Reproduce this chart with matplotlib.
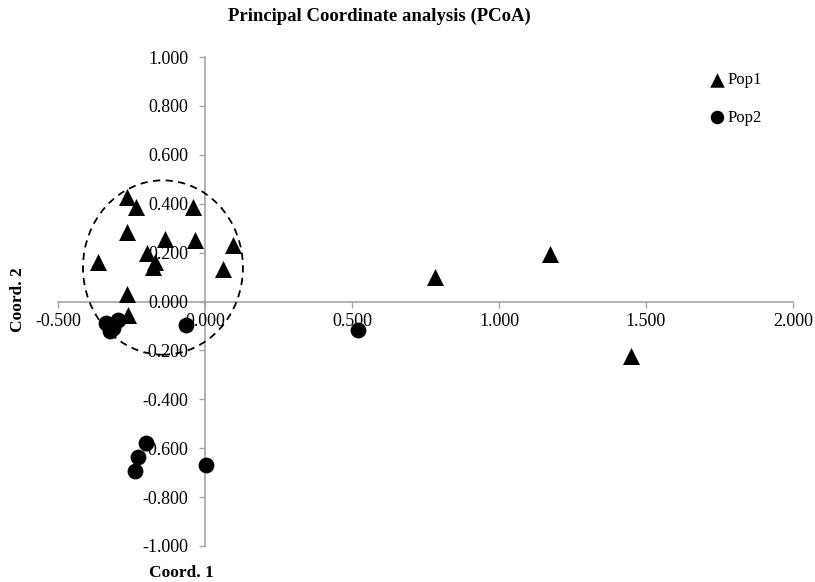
import matplotlib
matplotlib.use("Agg")
import matplotlib.pyplot as plt
from matplotlib.patches import Ellipse

plt.rcParams['font.family'] = ['Liberation Serif', 'DejaVu Serif']

# PCoA coordinates
pop1_x = [-0.265, -0.233, -0.040, -0.266, -0.136, -0.034, 0.096, -0.198, -0.170,
          -0.176, -0.363, 0.062, -0.266, -0.261, 0.782, 1.173, 1.448]
pop1_y = [0.426, 0.387, 0.387, 0.284, 0.257, 0.253, 0.230, 0.198, 0.161,
          0.141, 0.161, 0.134, 0.031, -0.057, 0.100, 0.195, -0.221]
pop2_x = [-0.337, -0.313, -0.296, -0.322, -0.064, 0.522, -0.200, -0.227, -0.238, 0.004]
pop2_y = [-0.086, -0.107, -0.074, -0.122, -0.098, -0.115, -0.580, -0.635, -0.693, -0.669]

x_ticks = [-0.5, 0.0, 0.5, 1.0, 1.5, 2.0]
y_ticks = [-1.0, -0.8, -0.6, -0.4, -0.2, 0.0, 0.2, 0.4, 0.6, 0.8, 1.0]

fig = plt.figure(figsize=(8.15, 5.82), dpi=100)
ax = fig.add_axes([58 / 815, 1 - 546 / 582, (793 - 58) / 815, (546 - 57) / 582])

ax.scatter(pop1_x, pop1_y, marker='^', s=150, color='black', label='Pop1', zorder=5, linewidths=0)
ax.scatter(pop2_x, pop2_y, marker='o', s=130, color='black', label='Pop2', zorder=5, linewidths=0)

# dashed ring around the main cluster
ax.add_patch(Ellipse((-0.143, 0.139), 0.544, 0.713, fill=False, ls=(0, (4, 3)),
                     lw=1.3, color='black', zorder=4))

ax.set_xlim(-0.5, 2.0)
ax.set_ylim(-1.0, 1.0)
ax.set_xticks(x_ticks)
ax.set_yticks(y_ticks)
ax.set_xticklabels([f'{v:.3f}' for v in x_ticks])
ax.set_yticklabels([f'{v:.3f}' for v in y_ticks])

for side in ['top', 'right']:
    ax.spines[side].set_visible(False)
for side in ['left', 'bottom']:
    ax.spines[side].set_position(('data', 0))
    ax.spines[side].set_color('#a6a6a6')
    ax.spines[side].set_linewidth(1.2)
    ax.spines[side].set_zorder(1)

ax.tick_params(axis='both', direction='out', length=4, width=1, color='#a6a6a6',
               labelsize=13)
ax.tick_params(axis='x', pad=4)
ax.tick_params(axis='y', pad=8)
for lab in ax.get_xticklabels() + ax.get_yticklabels():
    lab.set_zorder(2)

ax.legend(loc='upper left', bbox_to_anchor=(710 / 815, 1 - 72 / 582),
          bbox_transform=fig.transFigure, frameon=False, fontsize=12,
          borderpad=0, borderaxespad=0, handlelength=0.8, handletextpad=0.25,
          labelspacing=1.3, markerscale=0.85)

fig.text(379 / 815, 1 - 16 / 582, 'Principal Coordinate analysis (PCoA)',
         ha='center', va='center', fontsize=13.5, fontweight='bold')
fig.text(18 / 815, 1 - 300 / 582, 'Coord. 2', rotation=90, ha='center', va='center',
         fontsize=12.5, fontweight='bold')
fig.text(181 / 815, 1 - 573 / 582, 'Coord. 1', ha='center', va='center',
         fontsize=12.5, fontweight='bold')

fig.savefig('out.png', dpi=100)
